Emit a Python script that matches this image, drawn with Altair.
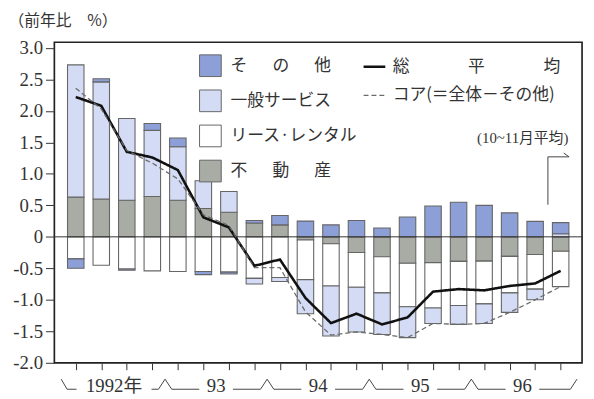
import altair as alt
import pandas as pd

# ---------------- data ----------------
quarters = list(range(20))  # 1992Q1 ... 1996Q4

fudousan = [0.63, 0.60, 0.58, 0.64, 0.58, 0.45, 0.39, 0.22, 0.19, -0.05,
            -0.11, -0.25, -0.315, -0.42, -0.41, -0.39, -0.385, -0.31, -0.28, -0.23]
lease = [-0.35, -0.45, -0.51, -0.54, -0.55, -0.55, -0.56, -0.66, -0.645, -0.63,
         -0.67, -0.55, -0.575, -0.69, -0.72, -0.70, -0.68, -0.58, -0.55, -0.56]
ippan = [2.10, 1.86, 1.30, 1.05, 0.85, 0.44, 0.33, -0.09, -0.065, -0.54,
         -0.795, -0.71, -0.66, -0.49, -0.245, -0.30, -0.31, -0.31, -0.17, 0.05]
sonota = [-0.15, 0.05, -0.02, 0.11, 0.14, -0.05, -0.03, 0.04, 0.15, 0.25,
          0.19, 0.26, 0.14, 0.315, 0.49, 0.55, 0.50, 0.38, 0.245, 0.175]

total = [2.22, 2.08, 1.35, 1.26, 1.06, 0.31, 0.15, -0.46, -0.36, -0.97,
         -1.37, -1.22, -1.39, -1.28, -0.87, -0.83, -0.85, -0.78, -0.74, -0.54]
core = [2.36, 2.03, 1.37, 1.17, 0.92, 0.35, 0.18, -0.49, -0.49, -1.19,
        -1.56, -1.51, -1.55, -1.60, -1.375, -1.39, -1.375, -1.20, -1.00, -0.79]

# category names (stack order from zero outward)
cat_fudousan = "不\u3000\u2002動\u3000\u2002産"
cat_lease = "リース·レンタル"
cat_ippan = "一般サービス"
cat_sonota = "そ\u3000\u2002の\u3000\u2002他"
stack_cats = [cat_fudousan, cat_lease, cat_ippan, cat_sonota]
legend_cats = [cat_sonota, cat_ippan, cat_lease, cat_fudousan]
legend_colors = ["#8d9fd7", "#d4dcf5", "#ffffff", "#a8aca4"]

name_total = "総\u3000\u3000\u3000\u2002平\u3000\u3000\u3000\u2002均"
name_core = "コア(＝全体－その他)"

y_ticks = [-2.0, -1.5, -1.0, -0.5, 0.0, 0.5, 1.0, 1.5, 2.0, 2.5, 3.0]
y_title = "（前年比　%）"
year_labels = ["1992年", "93", "94", "95", "96"]
year_gap = {"1992年": 1.47, "93": 0.66, "94": 0.66, "95": 0.66, "96": 0.66}
note_text = "(10~11月平均)"

# ---------------- tables ----------------
rows = []
for i in quarters:
    pos, neg = 0.0, 0.0
    for cat, vals in zip(stack_cats, [fudousan, lease, ippan, sonota]):
        v = vals[i]
        if v >= 0:
            rows.append(dict(q=i, cat=cat, y0=pos, y1=pos + v))
            pos += v
        else:
            rows.append(dict(q=i, cat=cat, y0=neg, y1=neg + v))
            neg += v
bars_df = pd.DataFrame(rows)

lines_df = pd.DataFrame({
    "q": quarters + quarters,
    "v": total + core,
    "series": [name_total] * len(quarters) + [name_core] * len(quarters),
})

# brace under the x axis
base, peak = -2.42, -2.26
brace = []
seg = 0
for k, lab in enumerate(year_labels):
    s, e, c = 4 * k - 0.5, 4 * k + 3.5, 4 * k + 1.5
    h = year_gap[lab]
    if k == 0:
        pts = [(s - 0.07, peak), (s + 0.16, base), (c - h, base)]
    else:
        pts = [(s, peak), (s + 0.26, base), (c - h, base)]
    for j, (x, y) in enumerate(pts):
        brace.append(dict(seg=seg, o=j, x=x, y=y))
    seg += 1
    if k == len(year_labels) - 1:
        pts = [(c + h, base), (e - 0.12, base), (e + 0.14, peak)]
    else:
        pts = [(c + h, base), (e - 0.26, base), (e, peak)]
    for j, (x, y) in enumerate(pts):
        brace.append(dict(seg=seg, o=j, x=x, y=y))
    seg += 1
brace_df = pd.DataFrame(brace)
year_df = pd.DataFrame({"x": [4 * k + 1.5 for k in range(len(year_labels))],
                        "y": [-2.375] * len(year_labels), "t": year_labels})

arrow_df = pd.DataFrame({"seg": [0, 0, 0, 1, 1], "o": [0, 1, 2, 0, 1],
                         "x": [18.5, 18.5, 19.33, 19.12, 19.33],
                         "y": [0.51, 1.27, 1.27, 1.33, 1.27]})
note_df = pd.DataFrame({"x": [19.3], "y": [1.57], "t": [note_text]})

# ---------------- chart ----------------
xs = alt.Scale(domain=[-0.645, 19.645], nice=False, zero=False)
ys = alt.Scale(domain=[-2.0, 3.09], nice=False, zero=False)
serif = "Liberation Serif, Noto Sans CJK JP"
cjk = "Noto Sans CJK JP"

x_ax = alt.Axis(values=quarters, labels=False, tickSize=7, labelOverlap=False)
y_ax = alt.Axis(values=y_ticks, tickSize=9, labelPadding=3, labelOverlap=False,
                labelExpr="datum.value == 0 ? '0' : (datum.value < 0 ? '-' : '') + format(abs(datum.value), '.1f')")


def X(field):
    return alt.X(field, scale=xs, title=None, axis=x_ax)


def Y(field):
    return alt.Y(field, scale=ys, title=y_title, axis=y_ax)


bars = alt.Chart(bars_df).mark_bar(width=16.7, stroke="#666", strokeWidth=1.1).encode(
    x=X("q:Q"),
    y=Y("y0:Q"),
    y2="y1:Q",
    fill=alt.Fill("cat:N", scale=alt.Scale(domain=legend_cats, range=legend_colors),
                  legend=alt.Legend(orient="none", legendX=146.7, legendY=12.3, title=None,
                                    symbolType="square", symbolSize=484,
                                    symbolStrokeColor="#666", symbolStrokeWidth=1,
                                    labelFont=cjk, labelFontSize=17, labelColor="#333",
                                    labelLimit=300,
                                    labelOffset=9, rowPadding=8.6, padding=0)),
)

zero = alt.Chart(pd.DataFrame({"y": [0.0]})).mark_rule(color="#333", strokeWidth=1).encode(
    y=Y("y:Q"))

line_legend = alt.Legend(orient="none", legendX=312, legendY=12.3, title=None,
                         symbolType="stroke", symbolSize=484,
                         labelFont=cjk, labelFontSize=17, labelColor="#333",
                         labelLimit=300,
                         labelOffset=6, rowPadding=8.6, padding=0)
ser_dom = [name_total, name_core]
lines = alt.Chart(lines_df).mark_line().encode(
    x=X("q:Q"),
    y=Y("v:Q"),
    stroke=alt.Stroke("series:N", scale=alt.Scale(domain=ser_dom, range=["#111111", "#6b6b6b"]),
                      legend=line_legend),
    strokeDash=alt.StrokeDash("series:N", scale=alt.Scale(domain=ser_dom, range=[[1, 0], [5, 3]]),
                              legend=line_legend),
    strokeWidth=alt.StrokeWidth("series:N", scale=alt.Scale(domain=ser_dom, range=[2.6, 1.3]),
                                legend=line_legend),
)

brace_layer = alt.Chart(brace_df).mark_line(color="#444", strokeWidth=1, clip=False).encode(
    x=X("x:Q"), y=Y("y:Q"), detail="seg:N", order="o:Q")

year_layer = alt.Chart(year_df).mark_text(font=serif, fontSize=19, color="#333",
                                          baseline="middle", align="center", clip=False).encode(
    x=X("x:Q"), y=Y("y:Q"), text="t:N")

arrow_layer = alt.Chart(arrow_df).mark_line(color="#444", strokeWidth=1).encode(
    x=X("x:Q"), y=Y("y:Q"), detail="seg:N", order="o:Q")

note_layer = alt.Chart(note_df).mark_text(font=serif, fontSize=15, color="#333",
                                          baseline="middle", align="right").encode(
    x=X("x:Q"), y=Y("y:Q"), text="t:N")

chart = alt.layer(bars, zero, lines, brace_layer, year_layer, arrow_layer, note_layer).properties(
    width=535, height=325,
    autosize=alt.AutoSizeParams(type="none"),
    padding={"left": 47, "top": 32, "right": 4, "bottom": 34},
    background="white",
).configure_view(
    stroke="#222", strokeWidth=1.7
).configure_axis(
    domain=False, grid=False, tickColor="#333", tickWidth=1,
    labelFont="Liberation Serif", labelFontSize=19, labelColor="#333",
).configure_axisY(
    titleAngle=0, titleX=-47, titleY=-22, titleAlign="left", titleBaseline="middle",
    titleFont=cjk, titleFontSize=16, titleFontWeight="normal", titleColor="#333",
)

chart.save("out.html", embed_options={"renderer": "svg", "actions": False})
